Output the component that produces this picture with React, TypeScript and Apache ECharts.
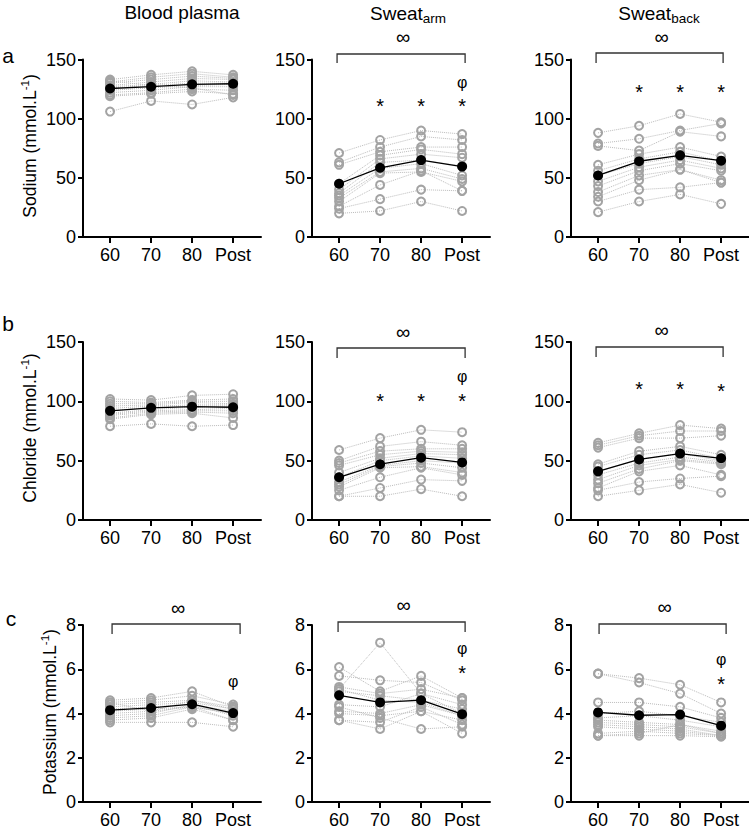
import React, { useEffect, useRef } from 'react';
import * as echarts from 'echarts';

const categories = ['60', '70', '80', 'Post'];

// ---- Sodium (mmol.L-1): one row per participant, values at 60, 70, 80, Post
const sodiumPlasma: number[][] = [
  [106, 115, 112, 118], [133, 137, 140, 137], [131, 135, 138, 135], [130, 133, 136, 134],
  [128, 131, 134, 133], [127, 129, 132, 131], [126, 128, 130, 130], [124, 126, 128, 129],
  [122, 124, 127, 127], [120, 122, 125, 124], [119, 121, 123, 121], [132, 128, 126, 120],
];
const sodiumArm: number[][] = [
  [71, 82, 90, 87], [63, 76, 85, 82], [61, 72, 76, 76], [45, 69, 74, 70],
  [40, 66, 70, 67], [37, 63, 65, 60], [35, 58, 62, 52], [33, 55, 58, 49],
  [30, 54, 55, 47], [26, 44, 56, 39], [24, 32, 40, 39], [20, 22, 30, 22],
];
const sodiumBack: number[][] = [
  [88, 94, 104, 97], [79, 83, 90, 96], [77, 73, 89, 85], [61, 70, 76, 68],
  [56, 66, 72, 64], [52, 62, 68, 61], [47, 59, 65, 58], [43, 56, 62, 56],
  [38, 52, 57, 48], [34, 48, 57, 46], [30, 40, 42, 46], [21, 30, 36, 28],
];
// ---- Chloride (mmol.L-1)
const chloridePlasma: number[][] = [
  [79, 81, 79, 80], [102, 101, 105, 106], [100, 99, 101, 102], [98, 98, 100, 100],
  [96, 97, 99, 98], [94, 96, 97, 97], [92, 95, 96, 96], [90, 93, 95, 95],
  [89, 92, 93, 94], [88, 91, 92, 92], [86, 90, 91, 90], [85, 89, 90, 86],
];
const chlorideArm: number[][] = [
  [59, 69, 76, 74], [50, 62, 66, 63], [48, 58, 60, 60], [46, 55, 58, 57],
  [40, 52, 56, 55], [36, 50, 54, 52], [32, 46, 50, 48], [30, 45, 48, 44],
  [28, 44, 45, 40], [25, 36, 44, 38], [20, 27, 34, 33], [20, 20, 26, 20],
];
const chlorideBack: number[][] = [
  [65, 73, 80, 77], [63, 71, 75, 75], [61, 69, 69, 71], [47, 58, 62, 55],
  [45, 55, 59, 52], [41, 51, 56, 50], [38, 48, 53, 49], [34, 46, 51, 48],
  [31, 43, 50, 47], [27, 41, 46, 38], [25, 32, 35, 37], [20, 25, 30, 23],
];
// ---- Potassium (mmol.L-1)
const potassiumPlasma: number[][] = [
  [3.6, 3.6, 3.6, 3.4], [4.6, 4.7, 5.0, 4.3], [4.5, 4.6, 4.8, 4.4], [4.4, 4.5, 4.6, 4.3],
  [4.3, 4.4, 4.5, 4.2], [4.2, 4.3, 4.4, 4.1], [4.1, 4.2, 4.3, 4.0], [4.0, 4.1, 4.3, 4.0],
  [3.9, 4.0, 4.4, 3.9], [3.8, 3.9, 4.3, 3.7], [3.7, 3.8, 4.2, 3.7], [4.5, 4.1, 4.6, 4.2],
];
const potassiumArm: number[][] = [
  [6.1, 5.0, 5.7, 4.7], [5.7, 5.5, 5.4, 4.6], [5.2, 4.9, 5.1, 4.7], [5.1, 7.2, 4.9, 4.4],
  [5.0, 4.8, 4.6, 4.2], [4.4, 4.3, 4.9, 4.0], [4.1, 4.0, 4.4, 3.9], [4.0, 3.9, 4.1, 3.7],
  [3.7, 3.6, 4.3, 3.5], [4.3, 3.8, 3.3, 3.4], [3.7, 3.3, 4.1, 3.1], [5.1, 4.6, 4.5, 3.9],
];
const potassiumBack: number[][] = [
  [5.8, 5.6, 5.3, 4.5], [5.8, 5.4, 4.9, 4.0], [4.5, 4.5, 4.3, 3.8], [4.0, 4.1, 3.9, 3.6],
  [3.8, 3.9, 3.7, 3.4], [3.7, 3.6, 3.5, 3.2], [3.6, 3.5, 3.4, 3.1], [3.5, 3.4, 3.3, 3.0],
  [3.4, 3.3, 3.2, 3.0], [3.1, 3.2, 3.1, 3.0], [3.0, 3.0, 3.0, 2.95], [3.0, 3.1, 3.5, 3.1],
];

// ---- Group means
const meanSodiumPlasma = [125.5, 127, 129, 129.5];
const meanSodiumArm = [45, 58.5, 65, 59.5];
const meanSodiumBack = [52, 64, 69, 64.5];
const meanChloridePlasma = [92, 94.5, 95.5, 95];
const meanChlorideArm = [36, 47, 52.5, 48.5];
const meanChlorideBack = [41, 51, 56, 52];
const meanPotassiumPlasma = [4.15, 4.25, 4.42, 4.02];
const meanPotassiumArm = [4.82, 4.5, 4.6, 3.97];
const meanPotassiumBack = [4.05, 3.92, 3.95, 3.45];

const yMaxByRow = [150, 150, 8];
const yIntervalByRow = [50, 50, 2];
const yTitles = ['Sodium (mmol.L', 'Chloride (mmol.L', 'Potassium (mmol.L'];
const panelLetters = ['a', 'b', 'c'];

const FONT = '"Liberation Sans", Arial, Helvetica, sans-serif';
const COL_LEFT = [83, 312, 571];
const GRID_W = 178;
const ROW_TOP = [59.5, 342, 625];
const ROW_H = [177.5, 178, 177];
const X_MIN = -0.66;
const X_MAX = 3.68;

const xPix = (col: number, i: number) => COL_LEFT[col] + ((i - X_MIN) / (X_MAX - X_MIN)) * GRID_W;

const panels = [
  { row: 0, col: 0, subjects: sodiumPlasma, mean: meanSodiumPlasma },
  { row: 0, col: 1, subjects: sodiumArm, mean: meanSodiumArm },
  { row: 0, col: 2, subjects: sodiumBack, mean: meanSodiumBack },
  { row: 1, col: 0, subjects: chloridePlasma, mean: meanChloridePlasma },
  { row: 1, col: 1, subjects: chlorideArm, mean: meanChlorideArm },
  { row: 1, col: 2, subjects: chlorideBack, mean: meanChlorideBack },
  { row: 2, col: 0, subjects: potassiumPlasma, mean: meanPotassiumPlasma },
  { row: 2, col: 1, subjects: potassiumArm, mean: meanPotassiumArm },
  { row: 2, col: 2, subjects: potassiumBack, mean: meanPotassiumBack },
];

// significance annotations (pixel layout)
const brackets = [
  { col: 1, top: 54, bottom: 63, infY: 37, dx0: -2, dx1: 3 },
  { col: 2, top: 53, bottom: 63, infY: 37, dx0: -2, dx1: 2 },
  { col: 1, top: 348, bottom: 358, infY: 332, dx0: -2, dx1: 3 },
  { col: 2, top: 347, bottom: 357, infY: 330, dx0: -2, dx1: 2 },
  { col: 0, top: 624, bottom: 634, infY: 608, dx0: 2, dx1: 7 },
  { col: 1, top: 622, bottom: 632, infY: 605, dx0: -1, dx1: 3 },
  { col: 2, top: 624, bottom: 634, infY: 607, dx0: 1, dx1: 5 },
];
const marks = [
  { col: 1, i: 3, y: 82, t: 'φ' },
  { col: 1, i: 1, y: 102, t: '*' }, { col: 1, i: 2, y: 102, t: '*' }, { col: 1, i: 3, y: 102, t: '*' },
  { col: 2, i: 1, y: 88, t: '*' }, { col: 2, i: 2, y: 88, t: '*' }, { col: 2, i: 3, y: 88, t: '*' },
  { col: 1, i: 3, y: 376, t: 'φ' },
  { col: 1, i: 1, y: 397, t: '*' }, { col: 1, i: 2, y: 397, t: '*' }, { col: 1, i: 3, y: 397, t: '*' },
  { col: 2, i: 1, y: 385, t: '*' }, { col: 2, i: 2, y: 385, t: '*' }, { col: 2, i: 3, y: 387, t: '*' },
  { col: 0, i: 3, y: 681, t: 'φ' },
  { col: 1, i: 3, y: 648, t: 'φ' }, { col: 1, i: 3, y: 669, t: '*' },
  { col: 2, i: 3, y: 659, t: 'φ' }, { col: 2, i: 3, y: 680, t: '*' },
];

function buildOption() {
  const grid: any[] = [];
  const xAxis: any[] = [];
  const yAxis: any[] = [];
  const series: any[] = [];
  panels.forEach((p, k) => {
    grid.push({ left: COL_LEFT[p.col], top: ROW_TOP[p.row], width: GRID_W, height: ROW_H[p.row] });
    xAxis.push({
      gridIndex: k, type: 'value', min: X_MIN, max: X_MAX,
      axisLine: { show: true, onZero: false, lineStyle: { color: '#000', width: 2 } },
      axisTick: { show: true, customValues: [0, 1, 2, 3], length: 6, lineStyle: { color: '#000', width: 2 } },
      axisLabel: {
        customValues: [0, 1, 2, 3], formatter: (v: number) => categories[Math.round(v)] ?? '',
        fontSize: 18, color: '#000', fontFamily: FONT, margin: 9,
      },
      splitLine: { show: false },
    });
    yAxis.push({
      gridIndex: k, type: 'value', min: 0, max: yMaxByRow[p.row], interval: yIntervalByRow[p.row],
      axisLine: { show: true, onZero: false, lineStyle: { color: '#000', width: 2 } },
      axisTick: { show: true, length: 5, lineStyle: { color: '#000', width: 2 } },
      axisLabel: { fontSize: 18, color: '#000', fontFamily: FONT, margin: 7 },
      splitLine: { show: false },
    });
    p.subjects.forEach((s) => {
      series.push({
        type: 'line', xAxisIndex: k, yAxisIndex: k, silent: true, z: 2,
        data: s.map((v, i) => [i, v]),
        symbol: 'circle', symbolSize: 8,
        lineStyle: { type: 'dotted', color: '#bcbcbc', width: 1 },
        itemStyle: { color: 'rgba(255,255,255,0)', borderColor: '#a3a3a3', borderWidth: 2 },
      });
    });
    series.push({
      type: 'line', xAxisIndex: k, yAxisIndex: k, silent: true, z: 4,
      data: p.mean.map((v, i) => [i, v]),
      symbol: 'circle', symbolSize: 10,
      lineStyle: { color: '#000', width: 1.3 },
      itemStyle: { color: '#000', borderColor: '#000', borderWidth: 0 },
    });
  });

  const graphic: any[] = [];
  // column titles
  graphic.push({ type: 'text', x: 182, y: 12, style: { text: 'Blood plasma', font: `19px ${FONT}`, fill: '#000', align: 'center', verticalAlign: 'middle' } });
  const subTitle = (cx: number, sub: string) => ({
    type: 'text', x: cx, y: 13,
    style: {
      text: `{n|Sweat}{s|${sub}}`, align: 'center', verticalAlign: 'middle',
      rich: {
        n: { fontSize: 19, fontFamily: FONT, fill: '#000', lineHeight: 24 },
        s: { fontSize: 13.5, fontFamily: FONT, fill: '#000', lineHeight: 13, verticalAlign: 'bottom' },
      },
    },
  });
  graphic.push(subTitle(408, 'arm'));
  graphic.push(subTitle(659, 'back'));
  // panel letters
  const letterPos = [[8, 55], [8, 323], [11, 618]];
  panelLetters.forEach((l, r) => {
    graphic.push({ type: 'text', x: letterPos[r][0], y: letterPos[r][1], style: { text: l, font: `21px ${FONT}`, fill: '#000', align: 'center', verticalAlign: 'middle' } });
  });
  // y-axis titles
  const yTitlePos = [[30, 146], [30, 428], [50, 712]];
  yTitles.forEach((t, r) => {
    graphic.push({
      type: 'text', x: yTitlePos[r][0], y: yTitlePos[r][1], rotation: Math.PI / 2,
      style: {
        text: `{n|${t}}{s|-1}{n|)}`, align: 'center', verticalAlign: 'middle',
        rich: {
          n: { fontSize: 17.5, fontFamily: FONT, fill: '#000', lineHeight: 22 },
          s: { fontSize: 11.5, fontFamily: FONT, fill: '#000', lineHeight: 11, verticalAlign: 'top' },
        },
      },
    });
  });
  // brackets
  brackets.forEach((b) => {
    const x0 = xPix(b.col, 0) + b.dx0;
    const x1 = xPix(b.col, 3) + b.dx1;
    graphic.push({
      type: 'polyline', shape: { points: [[x0, b.bottom], [x0, b.top], [x1, b.top], [x1, b.bottom]] },
      style: { stroke: '#333', lineWidth: 1.3, fill: null },
    });
    graphic.push({ type: 'text', x: (x0 + x1) / 2 + 2, y: b.infY, style: { text: '∞', font: `20px ${FONT}`, fill: '#000', align: 'center', verticalAlign: 'middle' } });
  });
  marks.forEach((m) => {
    const isStar = m.t === '*';
    graphic.push({
      type: 'text', x: xPix(m.col, m.i), y: isStar ? m.y + 4 : m.y,
      style: { text: m.t, font: `${isStar ? 20 : 16}px ${FONT}`, fill: '#000', align: 'center', verticalAlign: 'middle' },
    });
  });

  return { animation: false, backgroundColor: '#fff', grid, xAxis, yAxis, series, graphic };
}

export default function App() {
  const ref = useRef<HTMLDivElement>(null);
  useEffect(() => {
    if (!ref.current) return;
    const chart = echarts.init(ref.current, undefined, { renderer: 'svg' });
    chart.setOption(buildOption() as any);
    return () => chart.dispose();
  }, []);
  return <div ref={ref} style={{ position: 'fixed', left: 0, top: 0, width: 749, height: 833, background: '#fff' }} />;
}
